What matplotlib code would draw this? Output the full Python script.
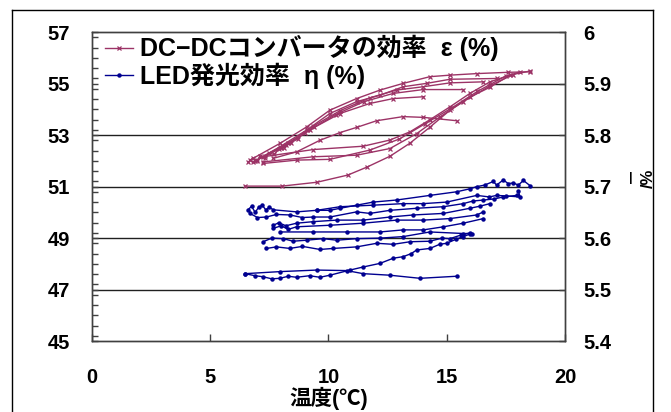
import matplotlib
matplotlib.use("Agg")
import matplotlib.pyplot as plt
from matplotlib.ticker import MultipleLocator
from matplotlib.lines import Line2D

plt.rcParams['font.family'] = ['Liberation Sans', 'Noto Sans CJK JP', 'DejaVu Sans']
plt.rcParams['font.weight'] = 'bold'

# DC-DCコンバータの効率 ε(%)  -- 左軸
pink_lines = [
    # 冷却側（上側の枝）
    [(18.52, 55.46), (17.6, 55.44), (16.27, 55.39), (15.14, 55.33), (14.29, 55.27), (13.16, 55.01),
     (12.18, 54.75), (11.19, 54.42), (10.06, 53.97), (9.08, 53.32), (7.95, 52.68), (6.68, 52.03)],
    [(17.11, 55.20), (15.14, 55.17), (14.15, 55.01), (13.16, 54.88), (12.18, 54.55), (11.19, 54.30),
     (10.06, 53.84), (9.08, 53.20), (7.95, 52.55), (6.9, 52.0)],
    [(16.55, 55.07), (15.14, 55.03), (14.01, 54.88), (12.88, 54.75), (11.75, 54.45), (10.49, 53.95),
     (9.36, 53.35), (8.2, 52.6), (7.0, 52.05)],
    [(15.70, 54.77), (14.01, 54.77), (12.74, 54.62), (11.5, 54.3), (10.3, 53.8), (9.2, 53.2),
     (8.0, 52.5), (6.8, 51.95)],
    [(14.01, 54.49), (12.74, 54.42), (11.75, 54.23), (10.49, 53.84), (9.4, 53.3), (8.3, 52.7), (7.3, 52.2)],
    [(15.42, 53.56), (14.01, 53.69), (13.16, 53.72), (12.04, 53.56), (11.19, 53.3), (10.49, 53.1),
     (9.64, 52.8), (8.65, 52.35), (7.67, 52.1)],
    # 加熱側（下側の枝）
    [(7.24, 52.16), (9.36, 52.44), (11.47, 52.57), (12.60, 52.81), (13.45, 53.13), (14.29, 53.6),
     (15.14, 54.1), (15.98, 54.62), (16.83, 55.07), (18.10, 55.46)],
    [(7.24, 51.96), (9.36, 52.16), (11.19, 52.22), (12.60, 52.48), (13.73, 53.06), (14.7, 53.7),
     (15.7, 54.3), (16.8, 54.9), (17.8, 55.35)],
    [(7.24, 51.9), (8.65, 52.03), (10.06, 52.06), (11.75, 52.42), (13.0, 52.85), (14.1, 53.45),
     (15.2, 54.05), (16.3, 54.7), (17.5, 55.3)],
    [(6.47, 51.02), (8.03, 51.02), (9.51, 51.17), (10.82, 51.45), (11.63, 51.76), (12.60, 52.18),
     (13.45, 52.69), (14.29, 53.31), (15.14, 53.97), (15.98, 54.48), (16.83, 54.86), (17.67, 55.33),
     (18.52, 55.49)],
    # 左下の密集部
    [(6.6, 51.95), (6.8, 52.1), (7.0, 52.0), (7.1, 52.2), (7.3, 52.1), (7.5, 52.3), (7.7, 52.25),
     (7.9, 52.45), (8.1, 52.5), (8.4, 52.7), (8.7, 52.85), (9.0, 53.1)],
]

# LED発光効率 η(%)  -- 右軸
blue_lines = [
    [(6.6, 5.655), (6.75, 5.662), (6.9, 5.650), (7.05, 5.660), (7.2, 5.664), (7.35, 5.655),
     (7.5, 5.660), (7.67, 5.655), (8.65, 5.651), (9.50, 5.654), (10.06, 5.654), (10.49, 5.658),
     (11.19, 5.664), (11.89, 5.670), (12.88, 5.674), (14.29, 5.683), (15.42, 5.690), (16.0, 5.696),
     (16.27, 5.700), (16.6, 5.703), (16.97, 5.710), (17.11, 5.703), (17.39, 5.713), (17.6, 5.706),
     (17.82, 5.707), (18.03, 5.703), (18.24, 5.712), (18.52, 5.702)],
    [(9.50, 5.654), (10.49, 5.661), (11.89, 5.664), (13.16, 5.667), (14.01, 5.667), (15.0, 5.670),
     (16.27, 5.683), (16.8, 5.680), (17.11, 5.683), (17.5, 5.682), (18.10, 5.680), (18.03, 5.692)],
    [(6.68, 5.648), (7.0, 5.640), (7.38, 5.641), (7.8, 5.646), (8.37, 5.645), (8.9, 5.640),
     (9.36, 5.641), (10.06, 5.641), (11.19, 5.651), (11.75, 5.648), (12.60, 5.654), (13.73, 5.658),
     (14.86, 5.661), (15.70, 5.667), (16.1, 5.672), (16.55, 5.674), (17.0, 5.676), (17.39, 5.680),
     (17.96, 5.683)],
    [(7.67, 5.625), (7.9, 5.630), (8.2, 5.624), (8.65, 5.629), (9.36, 5.632), (10.35, 5.635),
     (11.47, 5.635), (12.60, 5.641), (13.59, 5.645), (14.86, 5.648), (15.98, 5.658), (16.4, 5.662),
     (16.83, 5.667)],
    [(7.67, 5.619), (8.0, 5.624), (8.3, 5.617), (8.65, 5.622), (10.06, 5.625), (11.47, 5.629),
     (12.88, 5.635), (14.01, 5.635), (15.14, 5.638), (16.27, 5.645), (16.55, 5.651)],
    [(7.95, 5.612), (9.36, 5.612), (10.77, 5.612), (12.18, 5.612), (13.16, 5.616), (14.01, 5.616),
     (14.86, 5.622), (15.70, 5.629), (16.55, 5.638)],
    [(7.24, 5.593), (7.6, 5.600), (8.09, 5.599), (8.5, 5.594), (9.08, 5.596), (9.78, 5.599),
     (10.35, 5.596), (11.19, 5.599), (12.18, 5.600), (13.16, 5.603), (14.29, 5.612), (15.70, 5.609),
     (15.98, 5.609)],
    [(7.38, 5.580), (7.8, 5.583), (8.37, 5.580), (8.9, 5.584), (9.64, 5.578), (10.2, 5.580),
     (11.19, 5.583), (12.04, 5.590), (12.74, 5.588), (13.45, 5.593), (14.29, 5.594), (14.8, 5.600),
     (15.14, 5.599), (15.6, 5.606), (15.98, 5.610)],
    [(6.47, 5.531), (6.9, 5.527), (7.24, 5.525), (7.6, 5.521), (7.95, 5.522), (8.3, 5.526),
     (8.65, 5.524), (9.2, 5.527), (9.64, 5.524), (10.06, 5.528), (10.91, 5.538), (11.47, 5.544),
     (12.18, 5.551), (12.74, 5.561), (13.16, 5.564), (13.5, 5.570), (13.73, 5.577), (14.29, 5.580),
     (14.7, 5.588), (15.00, 5.590), (15.4, 5.598), (15.70, 5.603), (16.05, 5.609)],
    [(6.47, 5.531), (7.95, 5.535), (9.50, 5.538), (10.77, 5.537), (11.47, 5.531), (12.60, 5.528),
     (13.87, 5.522), (15.42, 5.526)],
]

x_ticks = [0, 5, 10, 15, 20]
left_ticks = [45, 47, 49, 51, 53, 55, 57]
right_ticks = [5.4, 5.5, 5.6, 5.7, 5.8, 5.9, 6.0]
right_labels = ['5.4', '5.5', '5.6', '5.7', '5.8', '5.9', '6']
grid_levels = [47, 49, 51, 53]
legend_labels = ['DC−DCコンバータの効率  ε (%)', 'LED発光効率  η (%)']

pink = '#9c3366'
blue = '#000090'

fig = plt.figure(figsize=(6.71, 4.12), dpi=100)
ax = fig.add_axes([0.137, 0.172, 0.705, 0.750])
ax2 = ax.twinx()

for y in grid_levels:
    ax.axhline(y, color='#202020', lw=1.0, zorder=0)
# 55 の線は凡例の背景に隠れて右側だけ見える
ax.axhline(55, xmin=0.84, xmax=1.0, color='#202020', lw=1.0, zorder=0)

for seg in pink_lines:
    xs = [p[0] for p in seg]
    ys = [p[1] for p in seg]
    ax.plot(xs, ys, color=pink, lw=1.0, marker='x', ms=3, mew=0.9, zorder=3)

for seg in blue_lines:
    xs = [p[0] for p in seg]
    ys = [p[1] for p in seg]
    ax2.plot(xs, ys, color=blue, lw=1.0, marker='o', ms=2.2, zorder=3)

ax.set_xlim(0, 20)
ax.set_ylim(45, 57)
ax2.set_ylim(5.4, 6.0)
ax.set_xticks(x_ticks)
ax.set_yticks(left_ticks)
ax.yaxis.set_minor_locator(MultipleLocator(0.4))
ax2.set_yticks(right_ticks)
ax2.set_yticklabels(right_labels)

ax.tick_params(axis='x', direction='in', length=5, pad=19, labelsize=14.5, width=1, color='#404040')
ax.tick_params(axis='y', which='both', direction='in', length=4, pad=16, labelsize=14.5, width=1,
               color='#404040')
ax2.tick_params(axis='y', direction='in', length=4, pad=13, labelsize=14.5, width=1, color='#404040')
for a in (ax, ax2):
    for s in a.spines.values():
        s.set_color('#404040')
        s.set_linewidth(1.0)
    for lab in a.get_xticklabels() + a.get_yticklabels():
        lab.set_fontweight('bold')

ax.set_xlabel('温度(℃)', fontsize=15.5, fontweight='bold', labelpad=0.5)

fig.text(0.940, 0.568, '|', fontsize=9, fontweight='bold', ha='center', va='center')
fig.text(0.966, 0.568, '/%', fontsize=12, fontweight='bold', ha='center', va='center', rotation=90)

handles = [
    Line2D([], [], color=pink, lw=1.0, marker='x', ms=3, mew=0.9),
    Line2D([], [], color=blue, lw=1.0, marker='o', ms=2.2),
]
leg = ax2.legend(handles, legend_labels,
                 loc='upper left', bbox_to_anchor=(0.027, 0.99), frameon=False,
                 handlelength=1.15, handletextpad=0.25, borderpad=0.0, borderaxespad=0.0,
                 labelspacing=0.05, prop={'size': 18, 'weight': 'bold'})

# 図全体の枠線
fig.add_artist(Line2D([0.018, 0.018], [0.0, 0.976], color='black', lw=1.0, transform=fig.transFigure))
fig.add_artist(Line2D([0.018, 0.973], [0.976, 0.976], color='black', lw=1.0, transform=fig.transFigure))
fig.add_artist(Line2D([0.973, 0.973], [0.0, 0.976], color='black', lw=1.0, transform=fig.transFigure))

fig.savefig('out.png', dpi=100)
